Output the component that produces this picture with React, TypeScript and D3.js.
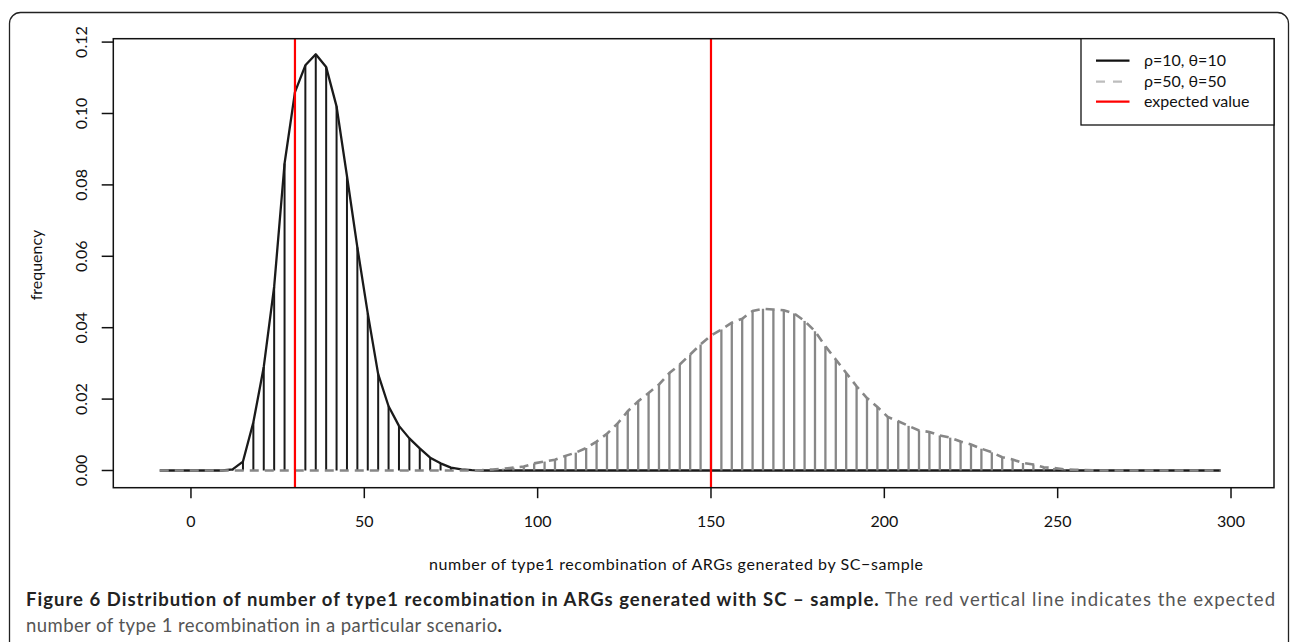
import React from "react";
import * as d3 from "d3";

// number of type1 recombinations (bin positions)
const xValues = [
  -9, -6, -3, 0, 3, 6, 9, 12, 15, 18, 21, 24, 27, 30, 33, 36, 39, 42, 45, 48,
  51, 54, 57, 60, 63, 66, 69, 72, 75, 78, 81, 84, 87, 90, 93, 96, 99, 102, 105, 108,
  111, 114, 117, 120, 123, 126, 129, 132, 135, 138, 141, 144, 147, 150, 153, 156, 159, 162, 165, 168,
  171, 174, 177, 180, 183, 186, 189, 192, 195, 198, 201, 204, 207, 210, 213, 216, 219, 222, 225, 228,
  231, 234, 237, 240, 243, 246, 249, 252, 255, 258, 261, 264, 267, 270, 273, 276, 279, 282, 285, 288,
  291, 294, 297,
];

// rho=10, theta=10
const seriesRho10 = [
  0, 0, 0, 0, 0, 0, 0, 0.0003, 0.0025, 0.0135, 0.029, 0.0515, 0.086, 0.106, 0.1135, 0.1166, 0.113, 0.102, 0.0825, 0.0625,
  0.044, 0.027, 0.018, 0.0125, 0.009, 0.0062, 0.0036, 0.002, 0.0008, 0.0003, 0.0001, 0, 0, 0, 0, 0, 0, 0, 0, 0,
  0, 0, 0, 0, 0, 0, 0, 0, 0, 0, 0, 0, 0, 0, 0, 0, 0, 0, 0, 0,
  0, 0, 0, 0, 0, 0, 0, 0, 0, 0, 0, 0, 0, 0, 0, 0, 0, 0, 0, 0,
  0, 0, 0, 0, 0, 0, 0, 0, 0, 0, 0, 0, 0, 0, 0, 0, 0, 0, 0, 0,
  0, 0, 0,
];

// rho=50, theta=50
const seriesRho50 = [
  0, 0, 0, 0, 0, 0, 0, 0, 0, 0, 0, 0, 0, 0, 0, 0, 0, 0, 0, 0,
  0, 0, 0, 0, 0, 0, 0, 0, 0, 0, 0, 0.0001, 0.0003, 0.0005, 0.0008, 0.0011, 0.002, 0.0025, 0.003, 0.0041,
  0.005, 0.0063, 0.0081, 0.0103, 0.0131, 0.0166, 0.0194, 0.0217, 0.0241, 0.0273, 0.0297, 0.0325, 0.0353, 0.0378, 0.0395, 0.0414, 0.0425, 0.0447, 0.0453, 0.0451,
  0.0449, 0.044, 0.0419, 0.039, 0.0348, 0.0311, 0.0273, 0.0236, 0.0203, 0.0178, 0.015, 0.0138, 0.0125, 0.0112, 0.0108, 0.0098, 0.0092, 0.0081, 0.0073, 0.0061,
  0.0051, 0.0037, 0.0031, 0.0021, 0.0017, 0.0009, 0.0007, 0.0003, 0.0002, 0.0001, 0, 0, 0, 0, 0, 0, 0, 0, 0, 0,
  0, 0, 0,
];

const expectedValues = [30, 150];

const xTicks = [0, 50, 100, 150, 200, 250, 300];
const yTicks = [0, 0.02, 0.04, 0.06, 0.08, 0.1, 0.12];

const legendLabels = ["ρ=10, θ=10", "ρ=50, θ=50", "expected value"];

const FONT = "Lato, 'Open Sans', sans-serif";

export default function App() {
  const W = 1292;
  const H = 642;
  const left = 113.3;
  const right = 1274;
  const top = 38.7;
  const bottom = 487.7;

  const x = d3.scaleLinear().domain([-22.4, 312.4]).range([left, right]);
  const y = d3.scaleLinear().domain([-0.00482, 0.12095]).range([bottom, top]);

  const pts1 = xValues.map((v, i) => [v, seriesRho10[i]] as [number, number]);
  const pts2 = xValues.map((v, i) => [v, seriesRho50[i]] as [number, number]);

  const line = d3
    .line<[number, number]>()
    .x((d) => x(d[0]))
    .y((d) => y(d[1]));

  const fmt = d3.format(".2f");
  const legendX = 1081;
  const legendRows = [60.7, 81.7, 101.7];

  return (
    <svg
      width={W}
      height={H}
      style={{ position: "absolute", left: 0, top: 0, background: "#fff" }}
      fontFamily={FONT}
    >
      <rect x={0} y={0} width={W} height={H} fill="#fff" />
      {/* outer rounded frame */}
      <rect x={9.5} y={12.5} width={1279} height={720} rx={11} fill="none" stroke="#222" strokeWidth={1.3} />

      {/* black series: vertical lines */}
      <g stroke="#1a1a1a" strokeWidth={2}>
        {pts1.map((d, i) =>
          d[1] > 0 ? <line key={i} x1={x(d[0])} x2={x(d[0])} y1={y(0)} y2={y(d[1])} /> : null
        )}
      </g>
      <path d={line(pts1) || ""} fill="none" stroke="#1a1a1a" strokeWidth={2.3} strokeLinejoin="round" />

      {/* gray series */}
      <g stroke="#878787" strokeWidth={2.3}>
        {pts2.map((d, i) =>
          d[1] > 0 ? <line key={i} x1={x(d[0])} x2={x(d[0])} y1={y(0)} y2={y(d[1])} /> : null
        )}
      </g>
      <path
        d={line(pts2) || ""}
        fill="none"
        stroke="#878787"
        strokeWidth={2.6}
        strokeDasharray="9,6"
      />

      {/* expected values */}
      {expectedValues.map((v) => (
        <line key={v} x1={x(v)} x2={x(v)} y1={top} y2={bottom} stroke="#ff0000" strokeWidth={2.2} />
      ))}

      {/* plot frame */}
      <rect x={left} y={top} width={right - left} height={bottom - top} fill="none" stroke="#111" strokeWidth={1.5} />

      {/* x axis */}
      {xTicks.map((t) => (
        <g key={t}>
          <line x1={x(t)} x2={x(t)} y1={bottom} y2={bottom + 10.5} stroke="#111" strokeWidth={1.5} />
          <text x={x(t)} y={527} textAnchor="middle" fontSize={16} fill="#111">
            {t}
          </text>
        </g>
      ))}
      <text x={676} y={570} textAnchor="middle" fontSize={16} fill="#111" textLength={494} lengthAdjust="spacing">
        number of type1 recombination of ARGs generated by SC−sample
      </text>

      {/* y axis */}
      {yTicks.map((t) => (
        <g key={t}>
          <line x1={left - 11.6} x2={left} y1={y(t)} y2={y(t)} stroke="#111" strokeWidth={1.5} />
          <text
            transform={`translate(87,${y(t)}) rotate(-90)`}
            textAnchor="middle"
            fontSize={16}
            fill="#111"
          >
            {fmt(t)}
          </text>
        </g>
      ))}
      <text transform="translate(42,265) rotate(-90)" textAnchor="middle" fontSize={16} fill="#111">
        frequency
      </text>

      {/* legend */}
      <rect x={legendX} y={top} width={right - legendX} height={125 - top} fill="#fff" stroke="#111" strokeWidth={1.3} />
      <line x1={1096} x2={1129.5} y1={legendRows[0]} y2={legendRows[0]} stroke="#111" strokeWidth={2.3} />
      <line x1={1096} x2={1129.5} y1={legendRows[1]} y2={legendRows[1]} stroke="#bdbdbd" strokeWidth={2.3} strokeDasharray="9,8" />
      <line x1={1096} x2={1129.5} y1={legendRows[2]} y2={legendRows[2]} stroke="#ff0000" strokeWidth={2.3} />
      {legendLabels.map((l, i) => (
        <text key={l} x={1144} y={legendRows[i] + 5.5} fontSize={16} fill="#111">
          {l}
        </text>
      ))}

      {/* caption */}
      <text x={26} y={606} fontSize={18.5} textLength={1249} lengthAdjust="spacing">
        <tspan fontWeight="bold" fill="#222">
          Figure 6 Distribution of number of type1 recombination in ARGs generated with SC – sample.
        </tspan>
        <tspan fill="#555"> The red vertical line indicates the expected</tspan>
      </text>
      <text x={26} y={632} fontSize={18.5} textLength={476} lengthAdjust="spacing">
        <tspan fill="#555">number of type 1 recombination in a particular scenario</tspan>
        <tspan fontWeight="bold" fill="#222">.</tspan>
      </text>
    </svg>
  );
}
